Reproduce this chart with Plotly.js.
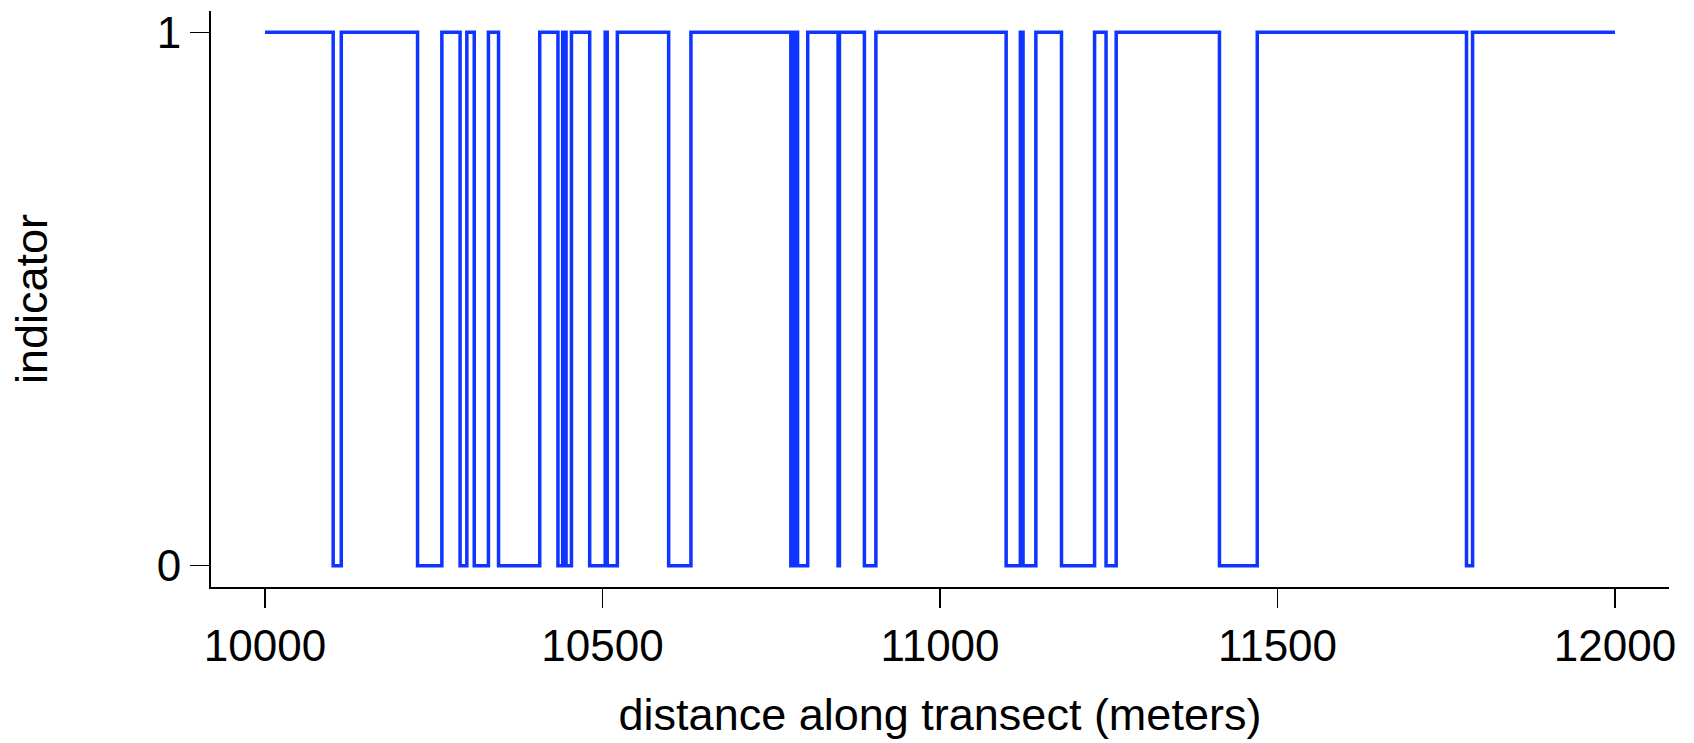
<!DOCTYPE html>
<html>
<head>
<meta charset="utf-8">
<script src="https://cdn.plot.ly/plotly-3.0.1.min.js"></script>
<style>html,body{margin:0;padding:0;background:#fff;}#chart{width:1694px;height:743px;}</style>
</head>
<body>
<div id="chart"></div>
<script>
// distance (m) at which each step starts, and the indicator value from there on
const stepStart = [10000, 10101, 10113, 10226, 10262, 10289, 10299, 10310, 10331, 10346,
  10407, 10434, 10441, 10446, 10454, 10481, 10504, 10507, 10522, 10598,
  10631, 10779, 10784, 10789, 10804, 10849, 10851, 10888, 10905, 11098,
  11119, 11123, 11142, 11180, 11229, 11246, 11261, 11414, 11470, 11780,
  11789, 12000];
const stepValue = [1, 0, 1, 0, 1, 0, 1, 0, 1, 0,
  1, 0, 1, 0, 1, 0, 1, 0, 1, 0,
  1, 0, 1, 0, 1, 0, 1, 0, 1, 0,
  1, 0, 1, 0, 1, 0, 1, 0, 1, 0,
  1, 1];
const xTicks = [10000, 10500, 11000, 11500, 12000];
const yTicks = [0, 1];

const FONT = '"Liberation Sans", Arial, Helvetica, sans-serif';

const trace = {
  x: stepStart, y: stepValue, type: 'scatter', mode: 'lines',
  line: {shape: 'hv', color: '#1034ff', width: 3.5},
  hoverinfo: 'skip'
};

const layout = {
  width: 1694, height: 743,
  margin: {l: 211, r: 25, t: 11, b: 156},
  paper_bgcolor: '#fff', plot_bgcolor: '#fff',
  showlegend: false,
  font: {family: FONT, size: 44, color: '#000'},
  xaxis: {
    range: [9920, 12080], tickvals: xTicks, ticktext: xTicks.map(String),
    showgrid: false, zeroline: false, showline: true, linecolor: '#000', linewidth: 2,
    ticks: 'outside', ticklen: 19, tickwidth: 1.5, tickcolor: '#000',
    tickfont: {family: FONT, size: 44, color: '#000'},
    title: {text: 'distance along transect (meters)', font: {family: FONT, size: 45, color: '#000'}, standoff: 30}
  },
  yaxis: {
    range: [-0.04, 1.04], tickvals: yTicks, ticktext: yTicks.map(String),
    showgrid: false, zeroline: false, showline: true, linecolor: '#000', linewidth: 2,
    ticks: 'outside', ticklen: 19, tickwidth: 1.5, tickcolor: '#000',
    tickfont: {family: FONT, size: 44, color: '#000'},
    title: {text: 'indicator', font: {family: FONT, size: 45, color: '#000'}, standoff: 95}
  }
};

Plotly.newPlot('chart', [trace], layout, {staticPlot: true, displayModeBar: false});
</script>
</body>
</html>
